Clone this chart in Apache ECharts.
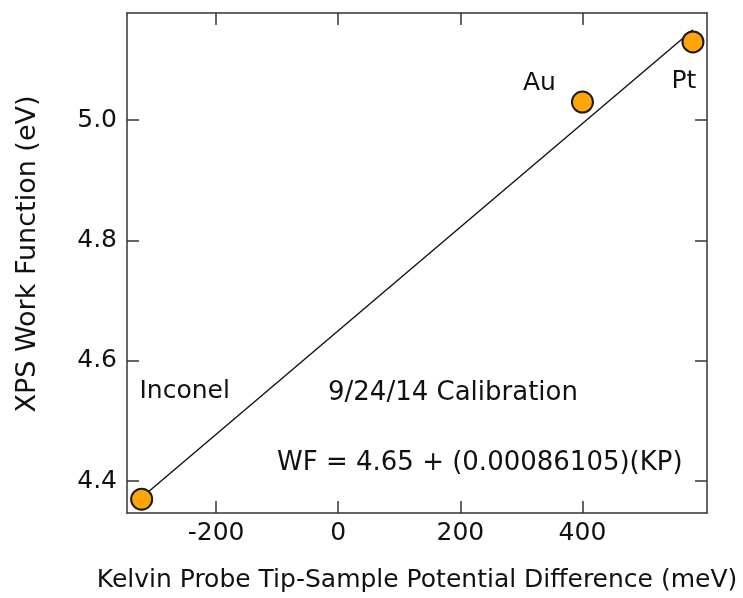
<!DOCTYPE html>
<html>
<head>
<meta charset="utf-8">
<script src="https://cdn.jsdelivr.net/npm/echarts@6/dist/echarts.min.js"></script>
<style>html,body{margin:0;padding:0;background:#fff}#c{width:743px;height:598px}</style>
</head>
<body>
<div id="c"></div>
<script>
// Data
var sampleNames = ['Inconel', 'Au', 'Pt'];
var kpValues = [-322, 400, 581];          // meV
var wfValues = [4.37, 5.03, 5.13];        // eV
var fitIntercept = 4.65;
var fitSlope = 0.00086105;
var xTicks = [-200, 0, 200, 400];
var yTicks = [4.4, 4.6, 4.8, 5.0];
var xTitle = 'Kelvin Probe Tip-Sample Potential Difference (meV)';
var yTitle = 'XPS Work Function (eV)';
var noteCal = '9/24/14 Calibration';
var noteEq = 'WF = 4.65 + (0.00086105)(KP)';

var FONT = 'DejaVu Sans';
var TXT = '#111';
var axisColor = '#333';

var xMinFit = Math.min.apply(null, kpValues);
var xMaxFit = Math.max.apply(null, kpValues);
var fitLine = [
  [xMinFit, fitIntercept + fitSlope * xMinFit],
  [xMaxFit, fitIntercept + fitSlope * xMaxFit]
];

var labelOffsets = {
  'Inconel': [43, -108],
  'Au': [-43, -19],
  'Pt': [-9, 40]
};

var points = sampleNames.map(function (n, i) {
  return {
    name: n,
    value: [kpValues[i], wfValues[i]],
    label: {
      show: true, formatter: n, position: 'inside',
      offset: labelOffsets[n], color: TXT,
      fontFamily: FONT, fontSize: 25
    }
  };
});

function tickStyle(vals) {
  return { show: true, inside: true, length: 12, customValues: vals, lineStyle: { color: axisColor, width: 1.5 } };
}
function baseAxis(extra) {
  var a = {
    type: 'value',
    axisLine: { show: true, onZero: false, lineStyle: { color: axisColor, width: 1.5 } },
    splitLine: { show: false },
    axisLabel: { show: false }
  };
  for (var k in extra) a[k] = extra[k];
  return a;
}

var xRange = { min: -346, max: 604 };
var yRange = { min: 4.347, max: 5.178 };

var chart = echarts.init(document.getElementById('c'));
chart.setOption({
  animation: false,
  grid: { left: 127, right: 36, top: 13, bottom: 85, containLabel: false },
  xAxis: [
    baseAxis({
      min: xRange.min, max: xRange.max, position: 'bottom',
      name: xTitle, nameLocation: 'middle', nameGap: 55,
      nameTextStyle: { fontFamily: FONT, fontSize: 25, color: TXT },
      axisTick: tickStyle(xTicks),
      axisLabel: { show: true, customValues: xTicks, margin: 8, fontFamily: FONT, fontSize: 25, color: TXT }
    }),
    baseAxis({
      min: xRange.min, max: xRange.max, position: 'top',
      axisTick: tickStyle(xTicks)
    })
  ],
  yAxis: [
    baseAxis({
      min: yRange.min, max: yRange.max, position: 'left',
      name: yTitle, nameLocation: 'middle', nameGap: 86,
      nameTextStyle: { fontFamily: FONT, fontSize: 27, color: TXT, padding: [0, 0, 0, 18] },
      axisTick: tickStyle(yTicks),
      axisLabel: { show: true, customValues: yTicks, margin: 10, fontFamily: FONT, fontSize: 25, color: TXT,
        formatter: function (v) { return v.toFixed(1); } }
    }),
    baseAxis({
      min: yRange.min, max: yRange.max, position: 'right',
      axisTick: tickStyle(yTicks)
    })
  ],
  series: [
    {
      type: 'line', data: fitLine, symbol: 'none', silent: true,
      lineStyle: { color: '#111', width: 1.4 }, z: 1
    },
    {
      type: 'scatter', data: points, symbol: 'circle', symbolSize: 21,
      itemStyle: { color: '#FFA50A', borderColor: '#1a1a1a', borderWidth: 2, opacity: 1 },
      z: 2
    }
  ],
  graphic: [
    { type: 'text', left: 328, top: 380, style: { text: noteCal, fontFamily: FONT, fontSize: 26, fill: TXT } },
    { type: 'text', left: 277, top: 450, style: { text: noteEq, fontFamily: FONT, fontSize: 26, fill: TXT } }
  ]
});
</script>
</body>
</html>
